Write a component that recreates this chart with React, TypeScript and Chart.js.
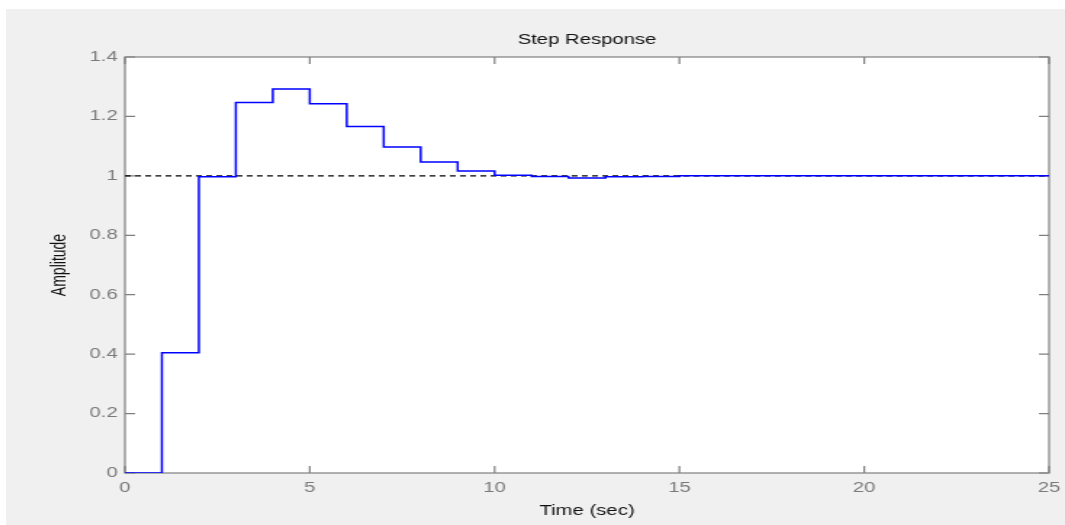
import React, { useEffect, useRef } from "react";
import { Chart, registerables } from "chart.js";

Chart.register(...registerables);

const timeSteps: number[] = [0, 1, 2, 3, 4, 5, 6, 7, 8, 9, 10, 11, 12, 13, 14, 15, 16, 17, 18, 19, 20, 21, 22, 23, 24, 25];
const amplitude: number[] = [0, 0.405, 0.997, 1.247, 1.292, 1.243, 1.166, 1.097, 1.047, 1.016, 1.002, 0.998, 0.993, 0.997, 0.998, 1, 1, 1, 1, 1, 1, 1, 1, 1, 1, 1];
const referenceX: number[] = [0, 25];
const referenceY: number[] = [1, 1];
const xTicks: number[] = [0, 5, 10, 15, 20, 25];
const yTicks: number[] = [0, 0.2, 0.4, 0.6, 0.8, 1, 1.2, 1.4];

const FONT = "'Liberation Sans', Arial, Helvetica, sans-serif";

const boxPlugin = {
  id: "matlabBox",
  beforeDraw(chart: any) {
    const { ctx, chartArea } = chart;
    ctx.save();
    ctx.fillStyle = "#ffffff";
    ctx.fillRect(chartArea.left, chartArea.top, chartArea.right - chartArea.left, chartArea.bottom - chartArea.top);
    ctx.restore();
  },
  beforeDatasetsDraw(chart: any) {
    const { ctx, chartArea, scales } = chart;
    const { left, right, top, bottom } = chartArea;
    ctx.save();
    ctx.strokeStyle = "#7f7f7f";
    ctx.lineWidth = 1.2;
    ctx.strokeRect(left, top, right - left, bottom - top);
    const tlx = 7;
    const tly = 7;
    ctx.beginPath();
    scales.x.ticks.forEach((t: any) => {
      const px = scales.x.getPixelForValue(t.value);
      ctx.moveTo(px, bottom);
      ctx.lineTo(px, bottom - tlx);
      ctx.moveTo(px, top);
      ctx.lineTo(px, top + tlx);
    });
    scales.y.ticks.forEach((t: any) => {
      const py = scales.y.getPixelForValue(t.value);
      ctx.moveTo(left, py);
      ctx.lineTo(left + tly, py);
      ctx.moveTo(right, py);
      ctx.lineTo(right - tly, py);
    });
    ctx.stroke();
    ctx.restore();
  },
};

export default function App() {
  const canvasRef = useRef<HTMLCanvasElement | null>(null);

  useEffect(() => {
    if (!canvasRef.current) return;
    const chart = new Chart(canvasRef.current, {
      type: "line",
      data: {
        datasets: [
          {
            label: "Step",
            data: timeSteps.map((t, i) => ({ x: t, y: amplitude[i] })),
            borderColor: "#0000ff",
            borderWidth: 1.5,
            pointRadius: 0,
            stepped: "before",
            fill: false,
            order: 0,
          },
          {
            label: "Reference",
            data: referenceX.map((t, i) => ({ x: t, y: referenceY[i] })),
            borderColor: "#000000",
            borderWidth: 1.2,
            borderDash: [4, 3],
            pointRadius: 0,
            fill: false,
            order: 1,
          },
        ],
      },
      options: {
        animation: false,
        responsive: false,
        devicePixelRatio: 1,
        events: [],
        layout: { padding: { left: 0, right: 11, top: 0, bottom: 0 } },
        plugins: {
          legend: { display: false },
          tooltip: { enabled: false },
          title: {
            display: true,
            fullSize: false,
            text: "Step Response",
            color: "#111111",
            font: { family: FONT, size: 14, weight: "normal" },
            padding: { top: 22.6, bottom: 8.6 },
          },
        },
        scales: {
          x: {
            type: "linear",
            min: 0,
            max: 25,
            afterBuildTicks: (scale: any) => {
              scale.ticks = xTicks.map((v) => ({ value: v }));
            },
            afterFit: (scale: any) => {
              scale.height = 52;
              scale.paddingLeft = 0;
              scale.paddingRight = 0;
            },
            grid: { display: false, drawTicks: false },
            border: { display: false },
            ticks: {
              color: "#7a7a7a",
              font: { family: FONT, size: 14 },
              padding: 7,
              maxRotation: 0,
              autoSkip: false,
              callback: (v: any) => String(v),
            },
            title: {
              display: true,
              text: "Time (sec)",
              color: "#111111",
              font: { family: FONT, size: 14 },
              padding: { top: 0, bottom: 5.6 },
            },
          },
          y: {
            type: "linear",
            min: 0,
            max: 1.4,
            afterBuildTicks: (scale: any) => {
              scale.ticks = yTicks.map((v) => ({ value: v }));
            },
            afterFit: (scale: any) => {
              scale.width = 82;
              scale.paddingTop = 0;
              scale.paddingBottom = 0;
            },
            grid: { display: false, drawTicks: false },
            border: { display: false },
            ticks: {
              color: "#7a7a7a",
              font: { family: FONT, size: 14 },
              padding: 5,
              autoSkip: false,
              callback: (v: any) => String(v),
            },
            title: {
              display: true,
              text: "Amplitude",
              color: "#111111",
              font: { family: FONT, size: 14 },
              padding: { top: 28.8, bottom: 0 },
            },
          },
        },
      },
      plugins: [boxPlugin],
    } as any);
    return () => chart.destroy();
  }, []);

  return (
    <div style={{ position: "absolute", left: 0, top: 0, width: 1065, height: 525, background: "#ffffff", overflow: "hidden" }}>
      <div style={{ position: "absolute", left: 6, top: 9, width: 1059, height: 516, background: "#f0f0f0" }}>
        <canvas
          ref={canvasRef}
          width={730}
          height={516}
          style={{ position: "absolute", left: 0, top: 0, width: "1059px", height: "516px", display: "block" }}
        />
      </div>
    </div>
  );
}
